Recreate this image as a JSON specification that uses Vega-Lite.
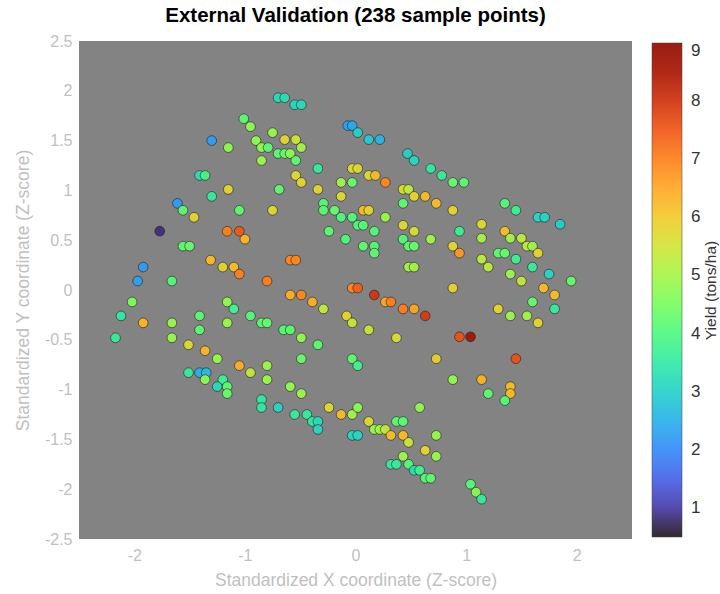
{
  "$schema": "https://vega.github.io/schema/vega-lite/v6.json",
  "width": 553,
  "height": 498,
  "autosize": {"type": "none"},
  "padding": {"left": 79, "top": 41, "right": 88, "bottom": 55},
  "background": "white",
  "title": {"text": "External Validation (238 sample points)", "fontSize": 20.5, "fontWeight": "bold", "font": "Liberation Sans", "color": "#000000", "offset": 7, "anchor": "middle"},
  "data": {"values": [
    {"x":-1.01,"y":1.72,"v":4.2},{"x":-0.95,"y":1.64,"v":4.8},{"x":-1.30,"y":1.50,"v":2.2},{"x":-0.75,"y":1.58,"v":4.9},{"x":-0.90,"y":1.50,"v":4.8},
    {"x":-0.85,"y":1.43,"v":4.8},{"x":-0.79,"y":1.43,"v":4.2},{"x":-1.15,"y":1.43,"v":4.8},{"x":-0.85,"y":1.30,"v":4.9},{"x":-1.41,"y":1.15,"v":3.3},
    {"x":-1.36,"y":1.15,"v":3.9},{"x":-1.15,"y":1.01,"v":5.8},{"x":-1.30,"y":0.94,"v":3.6},{"x":-1.61,"y":0.87,"v":2.2},{"x":-1.56,"y":0.80,"v":4.2},
    {"x":-1.46,"y":0.73,"v":5.8},{"x":-1.05,"y":0.80,"v":4.2},{"x":-0.75,"y":0.80,"v":5.7},{"x":-1.77,"y":0.59,"v":0.8},{"x":-1.16,"y":0.59,"v":7.0},
    {"x":-1.05,"y":0.59,"v":7.5},{"x":-1.00,"y":0.51,"v":6.3},{"x":-1.56,"y":0.44,"v":4.2},{"x":-1.50,"y":0.44,"v":4.3},
    {"x":-0.70,"y":1.93,"v":3.2},{"x":-0.64,"y":1.93,"v":3.3},{"x":-0.55,"y":1.86,"v":3.1},{"x":-0.49,"y":1.86,"v":3.2},{"x":-0.07,"y":1.65,"v":2.3},
    {"x":-0.03,"y":1.65,"v":2.4},{"x":0.02,"y":1.58,"v":3.0},{"x":0.12,"y":1.51,"v":2.9},{"x":0.22,"y":1.51,"v":2.6},{"x":0.47,"y":1.37,"v":3.0},
    {"x":0.53,"y":1.30,"v":3.1},{"x":0.68,"y":1.22,"v":3.5},{"x":0.78,"y":1.15,"v":3.6},{"x":-0.64,"y":1.51,"v":5.8},{"x":-0.54,"y":1.51,"v":5.5},
    {"x":-0.49,"y":1.43,"v":5.0},{"x":-0.70,"y":1.37,"v":4.2},{"x":-0.64,"y":1.37,"v":4.3},{"x":-0.59,"y":1.37,"v":4.8},{"x":-0.54,"y":1.30,"v":4.2},
    {"x":-0.34,"y":1.22,"v":3.6},{"x":-0.03,"y":1.22,"v":5.7},{"x":0.02,"y":1.22,"v":5.7},{"x":0.12,"y":1.15,"v":5.7},{"x":0.18,"y":1.15,"v":6.2},
    {"x":0.27,"y":1.08,"v":6.9},{"x":-0.54,"y":1.15,"v":5.7},{"x":-0.49,"y":1.08,"v":5.8},{"x":-0.13,"y":1.08,"v":5.0},{"x":-0.03,"y":1.08,"v":4.3},
    {"x":-0.69,"y":1.01,"v":4.2},{"x":-0.34,"y":1.01,"v":5.8},{"x":-0.13,"y":0.94,"v":5.7},{"x":0.43,"y":1.01,"v":5.7},{"x":0.48,"y":1.01,"v":5.3},
    {"x":0.53,"y":0.94,"v":5.8},{"x":0.63,"y":0.94,"v":6.2},{"x":0.73,"y":0.87,"v":6.2},{"x":-0.29,"y":0.87,"v":4.1},{"x":-0.29,"y":0.80,"v":4.2},
    {"x":-0.19,"y":0.80,"v":4.3},{"x":-0.13,"y":0.73,"v":4.0},{"x":-0.03,"y":0.73,"v":4.1},{"x":0.02,"y":0.65,"v":4.0},{"x":0.07,"y":0.65,"v":4.1},
    {"x":0.07,"y":0.80,"v":6.2},{"x":0.12,"y":0.80,"v":5.8},{"x":0.27,"y":0.73,"v":4.9},{"x":0.43,"y":0.87,"v":4.2},{"x":0.43,"y":0.65,"v":5.7},
    {"x":0.53,"y":0.59,"v":5.6},{"x":-0.24,"y":0.59,"v":4.2},{"x":-0.09,"y":0.51,"v":4.0},{"x":0.17,"y":0.59,"v":4.1},{"x":0.43,"y":0.51,"v":4.1},
    {"x":0.48,"y":0.44,"v":4.2},{"x":0.53,"y":0.44,"v":4.3},{"x":0.68,"y":0.51,"v":5.0},{"x":0.07,"y":0.44,"v":4.2},{"x":0.17,"y":0.44,"v":4.1},
    {"x":0.17,"y":0.37,"v":4.2},
    {"x":0.88,"y":1.08,"v":4.3},{"x":0.98,"y":1.08,"v":4.2},{"x":1.35,"y":0.87,"v":4.1},{"x":1.45,"y":0.80,"v":3.7},{"x":1.65,"y":0.73,"v":3.1},
    {"x":1.71,"y":0.73,"v":3.1},{"x":1.85,"y":0.66,"v":3.0},{"x":0.88,"y":0.80,"v":5.8},{"x":0.94,"y":0.59,"v":3.7},{"x":1.14,"y":0.66,"v":5.7},
    {"x":1.14,"y":0.52,"v":5.0},{"x":1.35,"y":0.59,"v":6.2},{"x":1.40,"y":0.52,"v":5.0},{"x":1.50,"y":0.52,"v":5.3},{"x":1.55,"y":0.44,"v":5.3},
    {"x":1.60,"y":0.44,"v":5.0},{"x":1.65,"y":0.37,"v":5.8},{"x":0.88,"y":0.44,"v":5.8},{"x":0.94,"y":0.37,"v":6.7},{"x":1.29,"y":0.37,"v":4.2},
    {"x":1.35,"y":0.37,"v":4.3},{"x":1.45,"y":0.31,"v":3.7},{"x":1.14,"y":0.31,"v":5.3},{"x":1.20,"y":0.23,"v":5.3},{"x":1.60,"y":0.23,"v":3.6},
    {"x":1.75,"y":0.16,"v":3.1},{"x":1.40,"y":0.16,"v":4.9},{"x":1.50,"y":0.09,"v":5.4},{"x":1.95,"y":0.09,"v":4.3},{"x":1.70,"y":0.02,"v":6.2},
    {"x":1.80,"y":-0.05,"v":6.2},{"x":0.88,"y":0.02,"v":5.8},
    {"x":-1.31,"y":0.30,"v":6.2},{"x":-1.20,"y":0.23,"v":5.8},{"x":-1.10,"y":0.23,"v":6.2},{"x":-1.05,"y":0.16,"v":7.0},{"x":-0.80,"y":0.09,"v":7.0},
    {"x":-1.92,"y":0.23,"v":2.2},{"x":-1.97,"y":0.09,"v":2.3},{"x":-1.66,"y":0.09,"v":4.1},{"x":-2.02,"y":-0.12,"v":4.6},{"x":-1.16,"y":-0.12,"v":4.8},
    {"x":-1.10,"y":-0.19,"v":3.8},{"x":-2.12,"y":-0.26,"v":3.5},{"x":-1.92,"y":-0.33,"v":6.3},{"x":-1.66,"y":-0.33,"v":4.9},{"x":-1.41,"y":-0.26,"v":4.2},
    {"x":-1.41,"y":-0.40,"v":4.2},{"x":-1.16,"y":-0.33,"v":4.9},{"x":-0.95,"y":-0.26,"v":4.1},{"x":-0.85,"y":-0.33,"v":4.2},{"x":-0.80,"y":-0.33,"v":4.3},
    {"x":-2.17,"y":-0.48,"v":3.6},{"x":-1.66,"y":-0.48,"v":4.9},{"x":-1.51,"y":-0.55,"v":5.7},{"x":-1.36,"y":-0.61,"v":6.3},{"x":-1.25,"y":-0.69,"v":4.9},
    {"x":-1.05,"y":-0.76,"v":6.4},{"x":-0.95,"y":-0.83,"v":5.4},{"x":-0.80,"y":-0.76,"v":4.9},{"x":-0.80,"y":-0.90,"v":4.9},{"x":-1.51,"y":-0.83,"v":3.6},
    {"x":-1.41,"y":-0.83,"v":2.5},{"x":-1.35,"y":-0.83,"v":2.7},{"x":-1.36,"y":-0.90,"v":4.7},{"x":-1.20,"y":-0.90,"v":3.7},{"x":-1.25,"y":-0.97,"v":3.2},
    {"x":-1.16,"y":-0.97,"v":4.2},{"x":-1.16,"y":-1.04,"v":4.3},{"x":-0.85,"y":-1.10,"v":3.5},{"x":-0.85,"y":-1.18,"v":3.5},{"x":-0.70,"y":-1.18,"v":3.1},
    {"x":0.48,"y":0.23,"v":5.0},{"x":0.53,"y":0.23,"v":5.0},{"x":-0.59,"y":0.30,"v":6.9},{"x":-0.54,"y":0.30,"v":6.9},{"x":-0.03,"y":0.02,"v":6.9},
    {"x":0.02,"y":0.02,"v":7.4},{"x":0.17,"y":-0.05,"v":8.0},{"x":-0.59,"y":-0.05,"v":6.4},{"x":-0.49,"y":-0.05,"v":6.9},{"x":-0.39,"y":-0.12,"v":6.4},
    {"x":-0.29,"y":-0.19,"v":5.3},{"x":0.27,"y":-0.12,"v":6.5},{"x":0.32,"y":-0.12,"v":7.0},{"x":0.43,"y":-0.19,"v":7.0},{"x":0.53,"y":-0.19,"v":6.5},
    {"x":0.63,"y":-0.26,"v":7.9},{"x":-0.08,"y":-0.26,"v":5.8},{"x":-0.03,"y":-0.33,"v":5.4},{"x":0.12,"y":-0.40,"v":5.4},{"x":0.37,"y":-0.48,"v":5.6},
    {"x":0.73,"y":-0.69,"v":5.9},{"x":-0.65,"y":-0.40,"v":4.1},{"x":-0.59,"y":-0.40,"v":4.2},{"x":-0.49,"y":-0.48,"v":4.8},{"x":-0.34,"y":-0.55,"v":4.2},
    {"x":-0.49,"y":-0.69,"v":4.3},{"x":-0.03,"y":-0.69,"v":4.2},{"x":0.02,"y":-0.76,"v":3.8},{"x":-0.59,"y":-0.97,"v":4.8},{"x":-0.49,"y":-1.04,"v":4.9},
    {"x":1.60,"y":-0.12,"v":4.3},{"x":1.80,"y":-0.19,"v":3.6},{"x":1.29,"y":-0.19,"v":5.8},{"x":1.40,"y":-0.26,"v":4.9},{"x":1.55,"y":-0.26,"v":5.0},
    {"x":1.65,"y":-0.33,"v":5.8},{"x":0.94,"y":-0.47,"v":7.6},{"x":1.04,"y":-0.47,"v":8.6},{"x":1.45,"y":-0.69,"v":7.6},{"x":0.88,"y":-0.90,"v":4.8},
    {"x":1.14,"y":-0.90,"v":6.3},{"x":1.40,"y":-0.97,"v":6.2},{"x":1.40,"y":-1.04,"v":6.2},{"x":1.20,"y":-1.04,"v":4.2},{"x":1.35,"y":-1.11,"v":4.1},
    {"x":-0.55,"y":-1.25,"v":3.6},{"x":-0.44,"y":-1.25,"v":3.6},{"x":-0.39,"y":-1.32,"v":3.5},{"x":-0.34,"y":-1.32,"v":3.2},{"x":-0.34,"y":-1.40,"v":3.1},
    {"x":-0.24,"y":-1.18,"v":5.7},{"x":-0.13,"y":-1.25,"v":6.2},{"x":-0.03,"y":-1.25,"v":5.0},{"x":0.02,"y":-1.18,"v":4.7},{"x":-0.03,"y":-1.46,"v":3.1},
    {"x":0.02,"y":-1.46,"v":3.1},{"x":0.12,"y":-1.32,"v":5.7},{"x":0.17,"y":-1.40,"v":4.9},{"x":0.22,"y":-1.40,"v":4.9},{"x":0.27,"y":-1.40,"v":5.4},
    {"x":0.37,"y":-1.32,"v":4.2},{"x":0.43,"y":-1.32,"v":4.2},{"x":0.32,"y":-1.46,"v":6.2},{"x":0.43,"y":-1.46,"v":6.2},{"x":0.48,"y":-1.53,"v":5.5},
    {"x":0.58,"y":-1.18,"v":4.8},{"x":0.73,"y":-1.46,"v":4.9},{"x":0.63,"y":-1.61,"v":5.8},{"x":0.73,"y":-1.67,"v":4.9},{"x":0.43,"y":-1.67,"v":4.9},
    {"x":0.32,"y":-1.75,"v":3.6},{"x":0.37,"y":-1.75,"v":3.6},{"x":0.48,"y":-1.75,"v":4.1},{"x":0.53,"y":-1.81,"v":3.3},{"x":0.58,"y":-1.81,"v":3.8},
    {"x":0.63,"y":-1.89,"v":4.1},{"x":0.68,"y":-1.89,"v":4.2},{"x":1.04,"y":-1.95,"v":4.1},{"x":1.09,"y":-2.03,"v":4.7},{"x":1.14,"y":-2.10,"v":3.6}
  ]},
  "encoding": {
    "x": {"field": "x", "type": "quantitative", "scale": {"domain": [-2.5, 2.5], "nice": false, "zero": false},
      "axis": {"values": [-2, -1, 0, 1, 2], "labelExpr": "datum.value + ''", "title": "Standardized X coordinate (Z-score)", "labelPadding": 8, "titlePadding": 8}}
  },
  "layer": [
    {
      "mark": {"type": "circle", "size": 95, "opacity": 0.92, "stroke": "#1a1a1a", "strokeWidth": 1, "strokeOpacity": 0.6},
      "encoding": {
        "y": {"field": "y", "type": "quantitative", "scale": {"domain": [-2.5, 2.5], "nice": false, "zero": false},
          "axis": {"values": [-2.5, -2, -1.5, -1, -0.5, 0, 0.5, 1, 1.5, 2, 2.5], "labelExpr": "datum.value + ''", "title": "Standardized Y coordinate (Z-score)", "labelPadding": 7, "titlePadding": 12}},
        "color": {"field": "v", "type": "quantitative", "scale": {"scheme": "turbo", "domain": [0.5, 9]},
          "legend": {"title": null, "orient": "none", "legendX": 573, "legendY": 2, "direction": "vertical",
            "gradientLength": 494, "gradientThickness": 30, "values": [1, 2, 3, 4, 5, 6, 7, 8, 9],
            "labelFontSize": 17, "labelColor": "#333333", "labelOffset": 9, "labelBaseline": "middle", "labelFont": "Liberation Sans",
            "gradientStrokeColor": "#333333", "gradientStrokeWidth": 0.5}}
      }
    },
    {
      "mark": {"type": "circle", "opacity": 0, "size": 1},
      "encoding": {
        "y": {"field": "y", "type": "quantitative", "scale": {"domain": [-2.5, 2.5], "nice": false, "zero": false},
          "axis": {"orient": "right", "labels": false, "title": "Yield (tons/ha)", "titleAngle": 270, "titleBaseline": "bottom",
            "titleColor": "#333333", "titleFontSize": 15.5, "titlePadding": 86}}
      }
    }
  ],
  "resolve": {"axis": {"y": "independent"}},
  "config": {
    "view": {"fill": "#838383", "stroke": null},
    "axis": {"grid": false, "ticks": false, "domain": false, "labelFont": "Liberation Sans", "titleFont": "Liberation Sans",
      "labelFontSize": 16, "labelColor": "#bfbfbf", "titleFontSize": 17.5, "titleColor": "#bfbfbf", "titleFontWeight": "normal"}
  }
}
